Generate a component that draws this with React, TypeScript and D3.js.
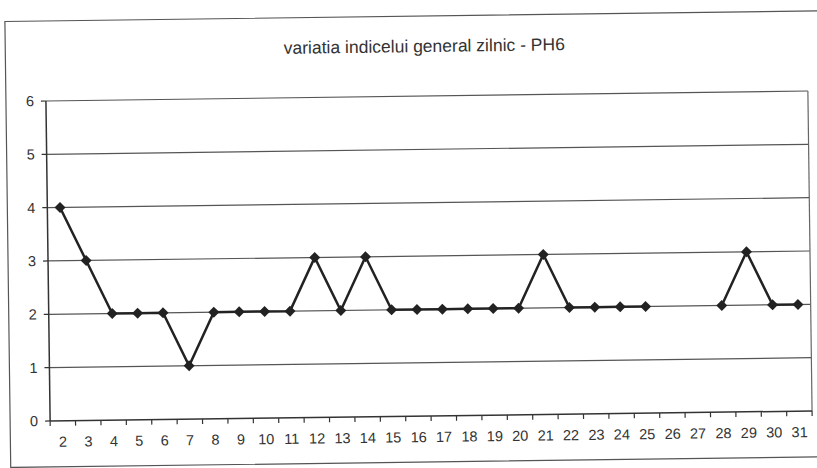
import React from "react";
import * as d3 from "d3";

const days: string[] = ["2","3","4","5","6","7","8","9","10","11","12","13","14","15","16","17","18","19","20","21","22","23","24","25","26","27","28","29","30","31"];
const values: (number | null)[] = [4,3,2,2,2,1,2,2,2,2,3,2,3,2,2,2,2,2,2,3,2,2,2,2,null,null,2,3,2,2];
const yTicks: number[] = [0,1,2,3,4,5,6];
const title = "variatia indicelui general zilnic - PH6";

const W = 817, H = 468;
const plot = { left: 48, right: 810, top: 96, bottom: 416 };

export default function App() {
  const x = d3.scaleBand<string>().domain(days).range([plot.left, plot.right]).padding(0);
  const y = d3.scaleLinear().domain([0, 6]).range([plot.bottom, plot.top]);
  const cx = (d: string) => (x(d) as number) + x.bandwidth() / 2;
  const pts = days.map((d, i) => ({ d, v: values[i] }));
  const line = d3.line<{ d: string; v: number | null }>()
    .defined(p => p.v !== null)
    .x(p => cx(p.d))
    .y(p => y(p.v as number));
  const r = 5.5;
  const diamond = `M0,${-r}L${r},0L0,${r}L${-r},0Z`;
  const font = "'Liberation Sans', Arial, sans-serif";
  const tickEdges = days.map(d => x(d) as number).concat([plot.right]);

  return (
    <svg width={W} height={H} style={{ position: "absolute", left: 0, top: 0, background: "#fff" }}>
      <rect x={0} y={0} width={W} height={H} fill="#fff" />
      <g transform="rotate(-0.75 428 256)">
        <rect x={8} y={16} width={830} height={446} fill="none" stroke="#555" strokeWidth={1.2} />
        <text x={427} y={52} textAnchor="middle" fontFamily={font} fontSize={17.5} fill="#333">{title}</text>
        {yTicks.map(t => (
          <g key={t}>
            {t > 0 && <line x1={plot.left} x2={plot.right} y1={y(t)} y2={y(t)} stroke="#555" strokeWidth={1.2} />}
            <line x1={plot.left - 5} x2={plot.left} y1={y(t)} y2={y(t)} stroke="#333" strokeWidth={1.2} />
            <text x={plot.left - 12} y={y(t) + 5} textAnchor="end" fontFamily={font} fontSize={14.5} fill="#333">{t}</text>
          </g>
        ))}
        <line x1={plot.right} x2={plot.right} y1={plot.top} y2={plot.bottom} stroke="#666" strokeWidth={1.2} />
        <line x1={plot.left} x2={plot.left} y1={plot.top} y2={plot.bottom} stroke="#333" strokeWidth={1.5} />
        <line x1={plot.left} x2={plot.right} y1={plot.bottom} y2={plot.bottom} stroke="#333" strokeWidth={1.5} />
        {tickEdges.map((e, i) => (
          <line key={i} x1={e} x2={e} y1={plot.bottom} y2={plot.bottom + 5} stroke="#333" strokeWidth={1.2} />
        ))}
        {days.map(d => (
          <text key={d} x={cx(d)} y={plot.bottom + 26} textAnchor="middle" fontFamily={font} fontSize={14.5} fill="#333">{d}</text>
        ))}
        <path d={line(pts) as string} fill="none" stroke="#222" strokeWidth={2.5} />
        {pts.filter(p => p.v !== null).map(p => (
          <path key={p.d} d={diamond} transform={`translate(${cx(p.d)},${y(p.v as number)})`} fill="#222" />
        ))}
      </g>
    </svg>
  );
}
